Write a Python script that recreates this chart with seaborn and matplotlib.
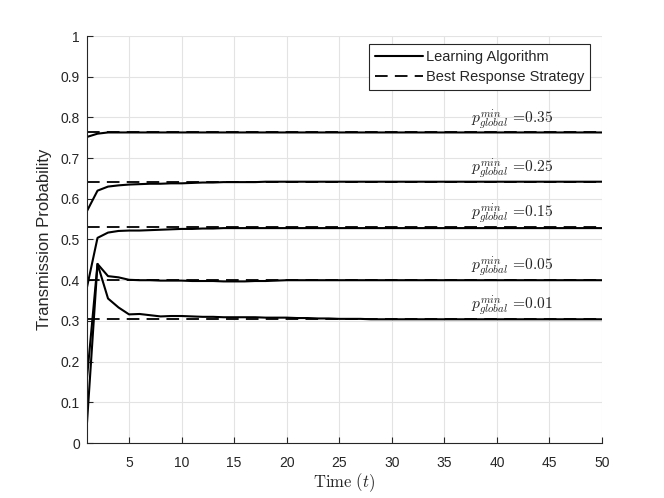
import numpy as np
import pandas as pd
import matplotlib
matplotlib.use("Agg")
import matplotlib.pyplot as plt
import seaborn as sns
from matplotlib.ticker import FormatStrFormatter

# time steps
t = list(range(1, 51))

# learning algorithm trajectories, one per p_global^min
lrn_035 = [0.752, 0.760, 0.763] + [0.763] * 47
lrn_025 = [0.570, 0.620, 0.630, 0.633, 0.635, 0.636, 0.637, 0.637, 0.638, 0.638,
           0.639, 0.640, 0.640, 0.641, 0.641, 0.641, 0.641] + [0.642] * 33
lrn_015 = [0.383, 0.504, 0.517, 0.521, 0.522, 0.522, 0.523, 0.524, 0.525, 0.526,
           0.526, 0.527, 0.527] + [0.528] * 37
lrn_005 = [0.160, 0.440, 0.410, 0.407, 0.401, 0.400, 0.400, 0.399, 0.399, 0.399,
           0.398, 0.398, 0.398, 0.397, 0.397, 0.397, 0.398, 0.398, 0.399] + [0.400] * 31
lrn_001 = [0.050, 0.440, 0.355, 0.333, 0.316, 0.317, 0.314, 0.311, 0.312, 0.312,
           0.311, 0.310, 0.310, 0.309, 0.309, 0.309, 0.309, 0.308, 0.308, 0.308,
           0.307, 0.307, 0.306, 0.306, 0.305, 0.305, 0.305] + [0.304] * 23

# best response values
p_labels = ["0.35", "0.25", "0.15", "0.05", "0.01"]
best_resp = [0.763, 0.642, 0.530, 0.400, 0.304]

learning = [lrn_035, lrn_025, lrn_015, lrn_005, lrn_001]


def main():
    sns.set_theme(style="whitegrid")
    plt.rcParams['font.family'] = ['Liberation Sans', 'DejaVu Sans']
    plt.rcParams['mathtext.fontset'] = 'cm'

    fig = plt.figure(figsize=(6.64, 4.98), dpi=100)
    ax = fig.add_axes([87 / 664, 55 / 498, 515 / 664, 407 / 498])

    for i, (vals, br) in enumerate(zip(learning, best_resp)):
        df = pd.DataFrame({"t": t, "p": vals, "br": [br] * len(t)})
        sns.lineplot(data=df, x="t", y="br", ax=ax, color="black", lw=1.3,
                     linestyle=(0, (7, 4)),
                     label="Best Response Strategy" if i == 0 else None)
        sns.lineplot(data=df, x="t", y="p", ax=ax, color="black", lw=1.5,
                     label="Learning Algorithm" if i == 0 else None)
        ax.text(45.4, br + 0.002, r"$p_{global}^{min}$ =" + p_labels[i],
                ha="right", va="bottom", fontsize=11.2, family=["cmr10"])

    ax.set_xlim(1, 50)
    ax.set_ylim(0, 1)
    ax.set_xticks(range(5, 51, 5))
    ax.set_yticks(np.arange(0, 1.01, 0.1))
    ax.yaxis.set_major_formatter(FormatStrFormatter('%g'))

    ax.set_facecolor("white")
    ax.grid(True, color="#e3e3e3", lw=0.8)
    for s in ["top", "right"]:
        ax.spines[s].set_visible(False)
    for s in ["left", "bottom"]:
        ax.spines[s].set_visible(True)
        ax.spines[s].set_color("#262626")
        ax.spines[s].set_linewidth(0.8)
    ax.tick_params(direction="in", length=4, width=0.8, color="#262626",
                   labelsize=10, labelcolor="#262626", left=True, bottom=True, pad=5)
    ax.tick_params(axis="x", pad=9)

    ax.set_xlabel(r"$\mathrm{Time}\ (t)$", fontsize=12, labelpad=1)
    ax.set_ylabel("Transmission Probability", fontsize=12, labelpad=6)

    # legend order: learning first
    handles, labels = ax.get_legend_handles_labels()
    order = [labels.index("Learning Algorithm"), labels.index("Best Response Strategy")]
    leg = ax.legend([handles[k] for k in order], [labels[k] for k in order],
                    loc="upper right", bbox_to_anchor=(0.977, 0.98), borderaxespad=0,
                    fontsize=10.5, handlelength=3.3, handletextpad=0.2,
                    borderpad=0.4, labelspacing=0.4, fancybox=False, framealpha=1)
    leg.get_frame().set_edgecolor("#262626")
    leg.get_frame().set_linewidth(0.8)

    fig.savefig("out.png", dpi=100)


if __name__ == "__main__":
    main()
